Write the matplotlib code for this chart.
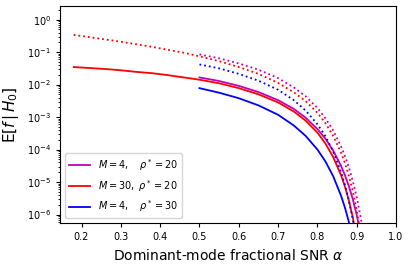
import matplotlib
matplotlib.use("Agg")
import matplotlib.pyplot as plt
import numpy as np

# log10 E[f|H0] (log axis), per curve
alpha_long = [0.18, 0.22, 0.26, 0.30, 0.34, 0.38, 0.42, 0.46, 0.50, 0.55, 0.60, 0.65,
              0.70, 0.74, 0.77, 0.80, 0.82, 0.84, 0.86, 0.87, 0.88, 0.89, 0.90, 0.91]
alpha_short = [0.50, 0.55, 0.60, 0.65, 0.70, 0.74, 0.77, 0.80, 0.82, 0.84, 0.86, 0.87,
               0.88, 0.89, 0.90, 0.91, 0.92]

# M=30, rho*=20 (red)
red_solid = [-1.46, -1.49, -1.52, -1.56, -1.61, -1.65, -1.71, -1.78, -1.85, -1.96, -2.11, -2.30,
             -2.55, -2.83, -3.11, -3.48, -3.81, -4.23, -4.79, -5.14, -5.57, -6.09, -6.75]
red_dotted = [-0.47, -0.54, -0.61, -0.68, -0.76, -0.84, -0.93, -1.02, -1.13, -1.28, -1.46, -1.67,
              -1.95, -2.24, -2.51, -2.87, -3.18, -3.58, -4.09, -4.42, -4.81, -5.28, -5.88, -6.63]

# M=4, rho*=20 (magenta)
mag_solid = [-1.78, -1.89, -2.04, -2.23, -2.48, -2.75, -3.02, -3.37, -3.66, -4.03, -4.50, -4.79,
             -5.13, -5.53, -6.02, -6.60]
mag_dotted = [-1.07, -1.19, -1.35, -1.54, -1.80, -2.09, -2.36, -2.72, -3.03, -3.41, -3.90, -4.20,
              -4.55, -4.97, -5.47, -6.08, -6.85]

# M=4, rho*=30 (blue)
blue_solid = [-2.11, -2.25, -2.42, -2.64, -2.93, -3.26, -3.58, -4.00, -4.36, -4.82, -5.42, -5.79,
              -6.23, -6.77]
blue_dotted = [-1.38, -1.50, -1.67, -1.88, -2.16, -2.48, -2.80, -3.22, -3.58, -4.06, -4.69, -5.09,
               -5.57, -6.16, -6.90]

labels = [r"$M=4,\quad\rho^*=20$", r"$M=30,\ \rho^*=20$", r"$M=4,\quad\rho^*=30$"]

fig = plt.figure(figsize=(4.1, 2.67), dpi=100)
ax = fig.add_axes([0.147, 0.165, 0.819, 0.812])

ax.plot(alpha_short[:len(mag_solid)], 10 ** np.array(mag_solid), color="m", lw=1.3, label=labels[0])
ax.plot(alpha_long[:len(red_solid)], 10 ** np.array(red_solid), color="r", lw=1.3, label=labels[1])
ax.plot(alpha_short[:len(blue_solid)], 10 ** np.array(blue_solid), color="b", lw=1.3, label=labels[2])
ax.plot(alpha_short[:len(mag_dotted)], 10 ** np.array(mag_dotted), color="m", lw=1.3, ls=":")
ax.plot(alpha_long[:len(red_dotted)], 10 ** np.array(red_dotted), color="r", lw=1.3, ls=":")
ax.plot(alpha_short[:len(blue_dotted)], 10 ** np.array(blue_dotted), color="b", lw=1.3, ls=":")

ax.set_yscale("log")
ax.set_xlim(0.146, 1.0)
ax.set_ylim(5.5e-7, 2.6)
ax.set_xticks([0.2, 0.3, 0.4, 0.5, 0.6, 0.7, 0.8, 0.9, 1.0])
ax.set_xticklabels(["0.2", "0.3", "0.4", "0.5", "0.6", "0.7", "0.8", "0.9", "1.0"])
ax.set_yticks([1e-6, 1e-5, 1e-4, 1e-3, 1e-2, 1e-1, 1e0])
ax.yaxis.set_minor_locator(matplotlib.ticker.LogLocator(base=10, subs=np.arange(2, 10), numticks=20))
ax.yaxis.set_minor_formatter(matplotlib.ticker.NullFormatter())
ax.tick_params(labelsize=7, length=3)
ax.tick_params(which="minor", length=1.5)

ax.set_xlabel(r"Dominant-mode fractional SNR $\alpha$", fontsize=10)
ax.set_ylabel(r"E[$f\,|\,H_0$]", fontsize=11)
ax.legend(loc="lower left", fontsize=7, handlelength=2.2, borderaxespad=0.5)

fig.savefig("out.png", dpi=100)
